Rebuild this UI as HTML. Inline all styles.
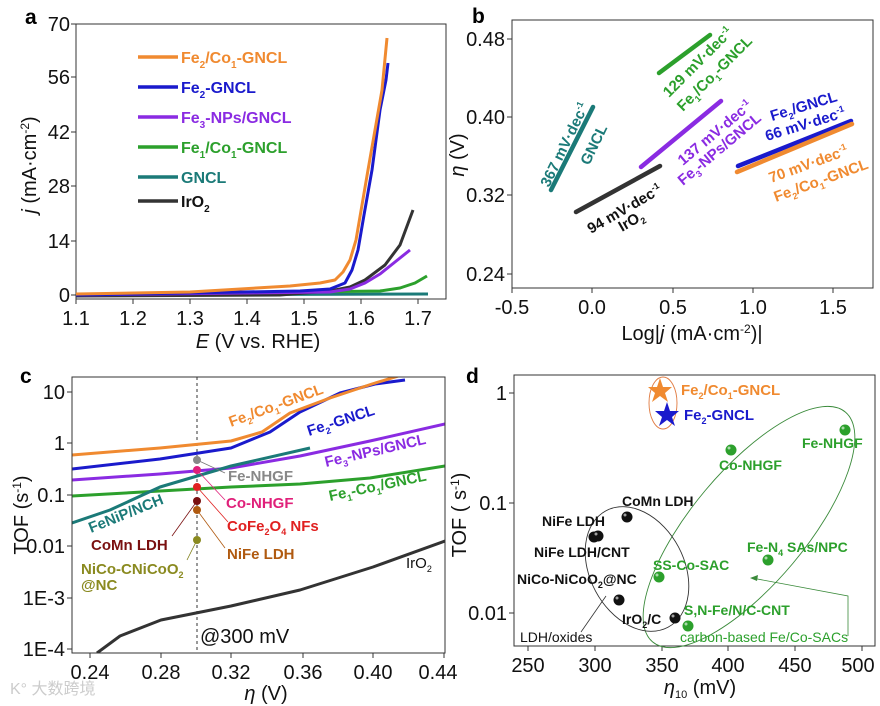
<!DOCTYPE html>
<html><head><meta charset="utf-8"><style>
html,body{margin:0;padding:0;background:#fff;}
svg{display:block;font-family:"Liberation Sans",Arial,sans-serif;}
.t{font-size:20px;fill:#111;}
.b{font-weight:bold;}
</style></head><body>
<svg width="880" height="706" viewBox="0 0 880 706" xmlns="http://www.w3.org/2000/svg">
<!-- ===== Panel a ===== -->
<text x="25" y="24" class="b" font-size="21">a</text>
<rect x="76" y="24" width="370" height="275" fill="none" stroke="#333" stroke-width="1"/>
<g class="t" text-anchor="end">
<text x="70" y="31">70</text><text x="70" y="84">56</text><text x="70" y="139">42</text>
<text x="70" y="193">28</text><text x="70" y="248">14</text><text x="70" y="302">0</text>
</g>
<g stroke="#333"><line x1="76" y1="24" x2="71" y2="24"/><line x1="76" y1="77" x2="71" y2="77"/><line x1="76" y1="132" x2="71" y2="132"/><line x1="76" y1="186" x2="71" y2="186"/><line x1="76" y1="241" x2="71" y2="241"/><line x1="76" y1="295" x2="71" y2="295"/>
<line x1="76" y1="299" x2="76" y2="304"/><line x1="133" y1="299" x2="133" y2="304"/><line x1="190" y1="299" x2="190" y2="304"/><line x1="247" y1="299" x2="247" y2="304"/><line x1="304" y1="299" x2="304" y2="304"/><line x1="361" y1="299" x2="361" y2="304"/><line x1="418" y1="299" x2="418" y2="304"/></g>
<g class="t" text-anchor="middle">
<text x="76" y="325">1.1</text><text x="133" y="325">1.2</text><text x="190" y="325">1.3</text><text x="247" y="325">1.4</text><text x="304" y="325">1.5</text><text x="361" y="325">1.6</text><text x="418" y="325">1.7</text>
<text x="258" y="348"><tspan font-style="italic">E</tspan> (V vs. RHE)</text>
</g>
<text class="t" transform="translate(36,165) rotate(-90)" text-anchor="middle"><tspan font-style="italic">j</tspan> (mA·cm<tspan font-size="12" dy="-7">-2</tspan><tspan dy="7">)</tspan></text>
<g fill="none" stroke-width="3" stroke-linejoin="round">
<polyline stroke="#1b7a78" points="76,295 428,294"/>
<polyline stroke="#2ca02c" points="76,295 380,291 400,288 415,283 427,276"/>
<polyline stroke="#333" points="76,296 280,295 330,291 350,287 365,280 385,265 400,245 413,210"/>
<polyline stroke="#8a2be2" points="76,295 330,292 350,289 365,283 380,274 395,262 410,250"/>
<polyline stroke="#1a1acc" points="76,295 300,291 330,289 345,283 352,270 358,250 364,215 372,170 380,110 386,80 388,63"/>
<polyline stroke="#f08a30" points="76,294 190,292 290,286 320,283 335,280 343,272 350,260 356,240 362,205 368,170 375,130 382,90 387,38"/>
</g>
<g stroke-width="3.5">
<line x1="138" y1="57" x2="178" y2="57" stroke="#f08a30"/>
<line x1="138" y1="87" x2="178" y2="87" stroke="#1a1acc"/>
<line x1="138" y1="117" x2="178" y2="117" stroke="#8a2be2"/>
<line x1="138" y1="147" x2="178" y2="147" stroke="#2ca02c"/>
<line x1="138" y1="177" x2="178" y2="177" stroke="#1b7a78"/>
<line x1="138" y1="201" x2="178" y2="201" stroke="#333"/>
</g>
<g class="b" font-size="16">
<text x="181" y="63" fill="#f08a30">Fe<tspan font-size="10" dy="5">2</tspan><tspan dy="-5">/Co</tspan><tspan font-size="10" dy="5">1</tspan><tspan dy="-5">-GNCL</tspan></text>
<text x="181" y="93" fill="#1a1acc">Fe<tspan font-size="10" dy="5">2</tspan><tspan dy="-5">-GNCL</tspan></text>
<text x="181" y="123" fill="#8a2be2">Fe<tspan font-size="10" dy="5">3</tspan><tspan dy="-5">-NPs/GNCL</tspan></text>
<text x="181" y="153" fill="#2ca02c">Fe<tspan font-size="10" dy="5">1</tspan><tspan dy="-5">/Co</tspan><tspan font-size="10" dy="5">1</tspan><tspan dy="-5">-GNCL</tspan></text>
<text x="181" y="183" fill="#1b7a78">GNCL</text>
<text x="181" y="207" fill="#111">IrO<tspan font-size="10" dy="5">2</tspan></text>
</g>

<!-- ===== Panel b ===== -->
<text x="472" y="23" class="b" font-size="21">b</text>
<rect x="512" y="20" width="361" height="268" fill="none" stroke="#333"/>
<g stroke="#333"><line x1="512" y1="39" x2="507" y2="39"/><line x1="512" y1="117" x2="507" y2="117"/><line x1="512" y1="195" x2="507" y2="195"/><line x1="512" y1="274" x2="507" y2="274"/>
<line x1="512" y1="288" x2="512" y2="293"/><line x1="592" y1="288" x2="592" y2="293"/><line x1="673" y1="288" x2="673" y2="293"/><line x1="753" y1="288" x2="753" y2="293"/><line x1="833" y1="288" x2="833" y2="293"/></g>
<g class="t" text-anchor="end"><text x="505" y="46">0.48</text><text x="505" y="124">0.40</text><text x="505" y="202">0.32</text><text x="505" y="281">0.24</text></g>
<g class="t" text-anchor="middle"><text x="512" y="314">-0.5</text><text x="592" y="314">0.0</text><text x="673" y="314">0.5</text><text x="753" y="314">1.0</text><text x="833" y="314">1.5</text>
<text x="692" y="340">Log|<tspan font-style="italic">j</tspan> (mA·cm<tspan font-size="12" dy="-7">-2</tspan><tspan dy="7">)|</tspan></text></g>
<text class="t" transform="translate(464,155) rotate(-90)" text-anchor="middle"><tspan font-style="italic">η</tspan> (V)</text>
<g stroke-width="4.5" stroke-linecap="round">
<line x1="551" y1="190" x2="593" y2="107" stroke="#1b7a78"/>
<line x1="576" y1="212" x2="660" y2="166" stroke="#333"/>
<line x1="641" y1="167" x2="721" y2="101" stroke="#8a2be2"/>
<line x1="659" y1="73" x2="710" y2="35" stroke="#2ca02c"/>
<line x1="738" y1="166" x2="851" y2="121" stroke="#1a1acc"/>
<line x1="737" y1="172" x2="852" y2="124" stroke="#f08a30"/>
</g>
<g class="b" font-size="15">
<text transform="translate(549,188) rotate(-64)" fill="#1b7a78">367 mV·dec<tspan font-size="9" dy="-6">-1</tspan></text>
<text transform="translate(589,166) rotate(-64)" fill="#1b7a78">GNCL</text>
<text transform="translate(591,234) rotate(-30)" fill="#111">94 mV·dec<tspan font-size="9" dy="-6">-1</tspan></text>
<text transform="translate(622,232) rotate(-30)" fill="#111">IrO<tspan font-size="9" dy="4">2</tspan></text>
<text transform="translate(683,166) rotate(-40)" fill="#8a2be2">137 mV·dec<tspan font-size="9" dy="-6">-1</tspan></text>
<text transform="translate(683,186) rotate(-40)" fill="#8a2be2">Fe<tspan font-size="9" dy="4">3</tspan><tspan dy="-4">-NPs/GNCL</tspan></text>
<text transform="translate(669,98) rotate(-45)" fill="#2ca02c">129 mV·dec<tspan font-size="9" dy="-6">-1</tspan></text>
<text transform="translate(683,112) rotate(-45)" fill="#2ca02c">Fe<tspan font-size="9" dy="4">1</tspan><tspan dy="-4">/Co</tspan><tspan font-size="9" dy="4">1</tspan><tspan dy="-4">-GNCL</tspan></text>
<text transform="translate(772,121) rotate(-17)" fill="#1a1acc">Fe<tspan font-size="9" dy="4">2</tspan><tspan dy="-4">/GNCL</tspan></text>
<text transform="translate(767,141) rotate(-17)" fill="#1a1acc">66 mV·dec<tspan font-size="9" dy="-6">-1</tspan></text>
<text transform="translate(771,183) rotate(-20)" fill="#f08a30">70 mV·dec<tspan font-size="9" dy="-6">-1</tspan></text>
<text transform="translate(776,202) rotate(-20)" fill="#f08a30">Fe<tspan font-size="9" dy="4">2</tspan><tspan dy="-4">/Co</tspan><tspan font-size="9" dy="4">1</tspan><tspan dy="-4">-GNCL</tspan></text>
</g>

<!-- ===== Panel c ===== -->
<text x="20" y="383" class="b" font-size="21">c</text>
<g class="t" text-anchor="end"><text x="65" y="399">10</text><text x="65" y="450">1</text><text x="65" y="502">0.1</text><text x="65" y="553">0.01</text><text x="65" y="605">1E-3</text><text x="65" y="656">1E-4</text></g>
<g stroke="#333"><line x1="72" y1="392" x2="67" y2="392"/><line x1="72" y1="443" x2="67" y2="443"/><line x1="72" y1="495" x2="67" y2="495"/><line x1="72" y1="546" x2="67" y2="546"/><line x1="72" y1="598" x2="67" y2="598"/><line x1="72" y1="649" x2="67" y2="649"/>
<line x1="90" y1="653" x2="90" y2="658"/><line x1="161" y1="653" x2="161" y2="658"/><line x1="231" y1="653" x2="231" y2="658"/><line x1="303" y1="653" x2="303" y2="658"/><line x1="373" y1="653" x2="373" y2="658"/><line x1="444" y1="653" x2="444" y2="658"/></g>
<g class="t" text-anchor="middle"><text x="90" y="679">0.24</text><text x="161" y="679">0.28</text><text x="231" y="679">0.32</text><text x="303" y="679">0.36</text><text x="373" y="679">0.40</text><text x="438" y="679">0.44</text>
<text x="266" y="700"><tspan font-style="italic">η</tspan> (V)</text></g>
<text class="t" transform="translate(28,515) rotate(-90)" text-anchor="middle">TOF (s<tspan font-size="12" dy="-7">-1</tspan><tspan dy="7">)</tspan></text>
<defs><clipPath id="cc"><rect x="72" y="377" width="373" height="276"/></clipPath></defs>
<line x1="197" y1="377" x2="197" y2="653" stroke="#333" stroke-dasharray="3,3"/>
<g fill="none" stroke-width="3" clip-path="url(#cc)" stroke-linejoin="round">
<polyline stroke="#333" points="97,653 120,636 161,620 231,606 300,590 373,567 445,541"/>
<polyline stroke="#2ca02c" points="72,496 160,491 231,487 300,484 370,478 445,466"/>
<polyline stroke="#8a2be2" points="72,480 160,474 231,468 300,456 370,441 445,424"/>
<polyline stroke="#1b7a78" points="72,523 110,510 160,487 231,466 310,448"/>
<polyline stroke="#1a1acc" points="72,469 160,459 231,448 270,432 300,412 340,393 375,384 405,380"/>
<polyline stroke="#f08a30" points="72,455 160,448 231,441 262,432 290,413 330,398 372,384 405,374"/>
</g>
<rect x="72" y="377" width="373" height="276" fill="none" stroke="#333"/>
<g stroke-width="0.8" fill="none">
<line x1="197" y1="460" x2="225" y2="473" stroke="#777"/>
<line x1="197" y1="470" x2="225" y2="500" stroke="#e0207a"/>
<line x1="197" y1="487" x2="228" y2="522" stroke="#e02020"/>
<line x1="197" y1="501" x2="172" y2="536" stroke="#7a1010"/>
<line x1="197" y1="510" x2="225" y2="548" stroke="#b05a10"/>
<line x1="197" y1="540" x2="187" y2="560" stroke="#7a7a10"/>
</g>
<circle cx="197" cy="460" r="4" fill="#888"/><circle cx="197" cy="470" r="4" fill="#e0207a"/><circle cx="197" cy="487" r="4" fill="#e02020"/>
<circle cx="197" cy="501" r="4" fill="#7a1010"/><circle cx="197" cy="510" r="4" fill="#b05a10"/><circle cx="197" cy="540" r="4" fill="#8a8a20"/>
<g class="b" font-size="15">
<text x="228" y="481" fill="#888">Fe-NHGF</text>
<text x="226" y="508" fill="#e0207a">Co-NHGF</text>
<text x="227" y="531" fill="#e02020">CoFe<tspan font-size="9" dy="4">2</tspan><tspan dy="-4">O</tspan><tspan font-size="9" dy="4">4</tspan><tspan dy="-4"> NFs</tspan></text>
<text x="91" y="550" fill="#7a1010">CoMn LDH</text>
<text x="227" y="559" fill="#b05a10">NiFe LDH</text>
<text x="81" y="574" fill="#8a8a20">NiCo-CNiCoO<tspan font-size="9" dy="4">2</tspan></text>
<text x="81" y="590" fill="#8a8a20">@NC</text>
<text x="406" y="568" fill="#111" font-weight="normal">IrO<tspan font-size="9" dy="4">2</tspan></text>
<text transform="translate(231,427) rotate(-20)" fill="#f08a30">Fe<tspan font-size="9" dy="4">2</tspan><tspan dy="-4">/Co</tspan><tspan font-size="9" dy="4">1</tspan><tspan dy="-4">-GNCL</tspan></text>
<text transform="translate(309,436) rotate(-18)" fill="#1a1acc">Fe<tspan font-size="9" dy="4">2</tspan><tspan dy="-4">-GNCL</tspan></text>
<text transform="translate(326,467) rotate(-13)" fill="#8a2be2">Fe<tspan font-size="9" dy="4">3</tspan><tspan dy="-4">-NPs/GNCL</tspan></text>
<text transform="translate(330,501) rotate(-12)" fill="#2ca02c">Fe<tspan font-size="9" dy="4">1</tspan><tspan dy="-4">-Co</tspan><tspan font-size="9" dy="4">1</tspan><tspan dy="-4">/GNCL</tspan></text>
<text transform="translate(91,533) rotate(-22)" fill="#1b7a78">FeNiP/NCH</text>
</g>
<text x="200" y="643" class="t">@300 mV</text>
<text x="10" y="694" font-size="16" fill="#ccc">K° 大数跨境</text>

<!-- ===== Panel d ===== -->
<text x="466" y="383" class="b" font-size="21">d</text>
<rect x="514" y="375" width="361" height="271" fill="none" stroke="#333"/>
<g stroke="#333"><line x1="514" y1="393" x2="509" y2="393"/><line x1="514" y1="503" x2="509" y2="503"/><line x1="514" y1="613" x2="509" y2="613"/>
<line x1="528" y1="646" x2="528" y2="651"/><line x1="595" y1="646" x2="595" y2="651"/><line x1="662" y1="646" x2="662" y2="651"/><line x1="728" y1="646" x2="728" y2="651"/><line x1="795" y1="646" x2="795" y2="651"/><line x1="862" y1="646" x2="862" y2="651"/></g>
<g class="t" text-anchor="end"><text x="507" y="400">1</text><text x="507" y="510">0.1</text><text x="507" y="620">0.01</text></g>
<g class="t" text-anchor="middle"><text x="528" y="672">250</text><text x="595" y="672">300</text><text x="662" y="672">350</text><text x="728" y="672">400</text><text x="795" y="672">450</text><text x="858" y="672">500</text>
<text x="700" y="694"><tspan font-style="italic">η</tspan><tspan font-size="11" dy="4">10</tspan><tspan dy="-4"> (mV)</tspan></text></g>
<text class="t" transform="translate(466,515) rotate(-90)" text-anchor="middle">TOF ( s<tspan font-size="12" dy="-7">-1</tspan><tspan dy="7">)</tspan></text>
<ellipse cx="663" cy="403" rx="14" ry="26" fill="none" stroke="#e07a40" stroke-width="0.9"/>
<ellipse cx="749" cy="527" rx="150" ry="57" transform="rotate(-50 749 527)" fill="none" stroke="#3a8a3a" stroke-width="0.9"/>
<ellipse cx="637" cy="569" rx="47" ry="66" transform="rotate(-28 637 569)" fill="none" stroke="#333" stroke-width="0.9"/>
<polygon points="660,378 663,387 672,387 665,393 668,402 660,396 652,402 655,393 648,387 657,387" fill="#f08a30"/>
<polygon points="667,402 670,411 679,411 672,417 675,426 667,420 659,426 662,417 655,411 664,411" fill="#1a1acc"/>
<g fill="#2ca02c"><circle cx="845" cy="430" r="5.5"/><circle cx="731" cy="450" r="5.5"/><circle cx="768" cy="560" r="5.5"/><circle cx="659" cy="577" r="5.5"/><circle cx="688" cy="626" r="5.5"/></g>
<g fill="#111"><circle cx="627" cy="517" r="5.5"/><circle cx="594" cy="537" r="5.5"/><circle cx="598" cy="536" r="5.5"/><circle cx="619" cy="600" r="5.5"/><circle cx="675" cy="618" r="5.5"/></g>
<g fill="#fff" opacity="0.6"><circle cx="843" cy="428" r="1.5"/><circle cx="729" cy="448" r="1.5"/><circle cx="766" cy="558" r="1.5"/><circle cx="657" cy="575" r="1.5"/><circle cx="686" cy="624" r="1.5"/><circle cx="625" cy="515" r="1.5"/><circle cx="596" cy="534" r="1.5"/><circle cx="617" cy="598" r="1.5"/><circle cx="673" cy="616" r="1.5"/></g>
<line x1="581" y1="632" x2="606" y2="596" stroke="#333" stroke-width="0.8"/>
<polyline points="848,636 848,596 752,578" fill="none" stroke="#3a8a3a" stroke-width="0.8"/>
<polygon points="750,578 758,575 757,581" fill="#3a8a3a"/>
<g class="b" font-size="15">
<text x="681" y="395" fill="#f08a30">Fe<tspan font-size="9" dy="4">2</tspan><tspan dy="-4">/Co</tspan><tspan font-size="9" dy="4">1</tspan><tspan dy="-4">-GNCL</tspan></text>
<text x="684" y="420" fill="#1a1acc">Fe<tspan font-size="9" dy="4">2</tspan><tspan dy="-4">-GNCL</tspan></text>
<g font-size="14">
<text x="802" y="448" fill="#2ca02c">Fe-NHGF</text>
<text x="719" y="470" fill="#2ca02c">Co-NHGF</text>
<text x="747" y="552" fill="#2ca02c">Fe-N<tspan font-size="9" dy="4">4</tspan><tspan dy="-4"> SAs/NPC</tspan></text>
<text x="653" y="570" fill="#2ca02c">SS-Co-SAC</text>
<text x="684" y="615" fill="#2ca02c">S,N-Fe/N/C-CNT</text>
<text x="622" y="506" fill="#111">CoMn LDH</text>
<text x="542" y="526" fill="#111">NiFe LDH</text>
<text x="534" y="557" fill="#111">NiFe LDH/CNT</text>
<text x="517" y="584" fill="#111">NiCo-NiCoO<tspan font-size="9" dy="4">2</tspan><tspan dy="-4">@NC</tspan></text>
<text x="622" y="624" fill="#111">IrO<tspan font-size="9" dy="4">2</tspan><tspan dy="-4">/C</tspan></text>
</g></g>
<text x="520" y="642" font-size="14" fill="#111">LDH/oxides</text>
<text x="680" y="642" font-size="14" fill="#2ca02c">carbon-based Fe/Co-SACs</text>
</svg>
</body></html>
